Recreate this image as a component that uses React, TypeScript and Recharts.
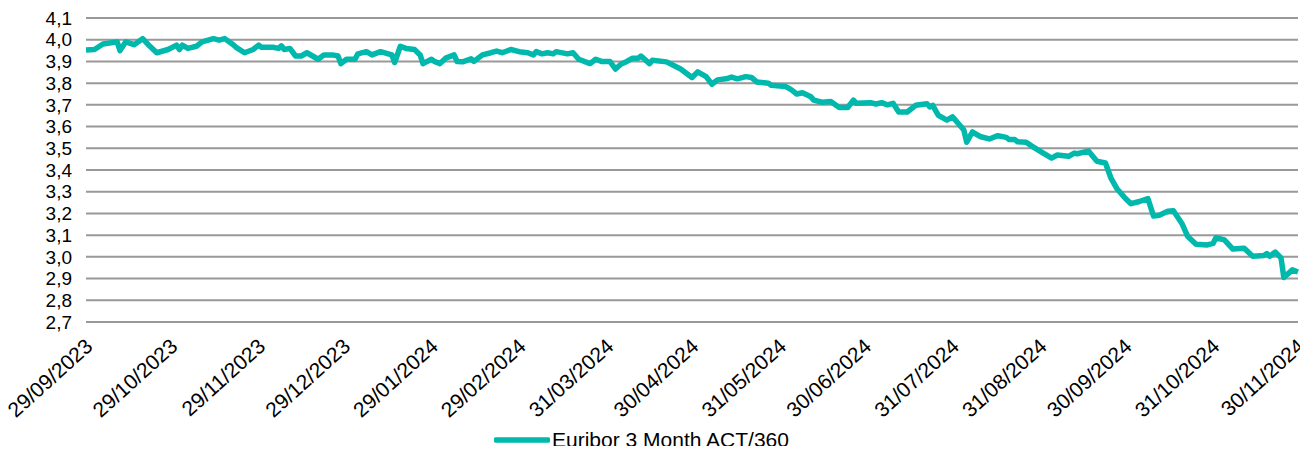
import React from "react";
import { LineChart, Line, XAxis, YAxis, CartesianGrid, Legend } from "recharts";

const dates = [
  "2023-09-29", "2023-10-02", "2023-10-05", "2023-10-10", "2023-10-11", "2023-10-13", "2023-10-16", "2023-10-19",
  "2023-10-21", "2023-10-24", "2023-10-28", "2023-10-31", "2023-11-01", "2023-11-02", "2023-11-04", "2023-11-07",
  "2023-11-09", "2023-11-13", "2023-11-15", "2023-11-17", "2023-11-20", "2023-11-21", "2023-11-24", "2023-11-27",
  "2023-11-29", "2023-11-30", "2023-12-04", "2023-12-06", "2023-12-07", "2023-12-08", "2023-12-10", "2023-12-12",
  "2023-12-14", "2023-12-16", "2023-12-20", "2023-12-22", "2023-12-25", "2023-12-27", "2023-12-28", "2023-12-30",
  "2024-01-02", "2024-01-03", "2024-01-06", "2024-01-08", "2024-01-11", "2024-01-15", "2024-01-16", "2024-01-18",
  "2024-01-20", "2024-01-23", "2024-01-25", "2024-01-26", "2024-01-29", "2024-01-30", "2024-02-01", "2024-02-03",
  "2024-02-06", "2024-02-07", "2024-02-09", "2024-02-12", "2024-02-13", "2024-02-16", "2024-02-19", "2024-02-21",
  "2024-02-23", "2024-02-26", "2024-02-29", "2024-03-03", "2024-03-05", "2024-03-06", "2024-03-08", "2024-03-10",
  "2024-03-12", "2024-03-13", "2024-03-17", "2024-03-19", "2024-03-21", "2024-03-25", "2024-03-27", "2024-03-29",
  "2024-04-01", "2024-04-03", "2024-04-05", "2024-04-07", "2024-04-09", "2024-04-11", "2024-04-12", "2024-04-15",
  "2024-04-16", "2024-04-21", "2024-04-26", "2024-04-30", "2024-05-02", "2024-05-05", "2024-05-07", "2024-05-09",
  "2024-05-12", "2024-05-14", "2024-05-16", "2024-05-19", "2024-05-21", "2024-05-23", "2024-05-27", "2024-05-28",
  "2024-06-02", "2024-06-04", "2024-06-06", "2024-06-08", "2024-06-11", "2024-06-12", "2024-06-15", "2024-06-18",
  "2024-06-21", "2024-06-24", "2024-06-26", "2024-06-27", "2024-07-02", "2024-07-04", "2024-07-06", "2024-07-08",
  "2024-07-10", "2024-07-12", "2024-07-15", "2024-07-18", "2024-07-22", "2024-07-23", "2024-07-24", "2024-07-26",
  "2024-07-29", "2024-07-31", "2024-08-04", "2024-08-05", "2024-08-07", "2024-08-10", "2024-08-13", "2024-08-16",
  "2024-08-19", "2024-08-20", "2024-08-22", "2024-08-23", "2024-08-26", "2024-08-28", "2024-08-31", "2024-09-04",
  "2024-09-06", "2024-09-10", "2024-09-12", "2024-09-13", "2024-09-17", "2024-09-20", "2024-09-23", "2024-09-25",
  "2024-09-27", "2024-09-30", "2024-10-02", "2024-10-05", "2024-10-08", "2024-10-10", "2024-10-12", "2024-10-15",
  "2024-10-17", "2024-10-20", "2024-10-22", "2024-10-25", "2024-10-29", "2024-10-31", "2024-11-01", "2024-11-04",
  "2024-11-07", "2024-11-11", "2024-11-14", "2024-11-18", "2024-11-19", "2024-11-20", "2024-11-22", "2024-11-24",
  "2024-11-25", "2024-11-28", "2024-11-30",
];

const euribor3m = [
  3.953, 3.955, 3.98, 3.99, 3.95, 3.99, 3.977, 4.005,
  3.977, 3.94, 3.955, 3.975, 3.955, 3.975, 3.96, 3.97,
  3.99, 4.005, 3.998, 4.005, 3.977, 3.965, 3.94, 3.955,
  3.975, 3.965, 3.965, 3.96, 3.972, 3.955, 3.96, 3.925,
  3.925, 3.94, 3.91, 3.93, 3.93, 3.925, 3.89, 3.91,
  3.91, 3.935, 3.945, 3.93, 3.945, 3.93, 3.895, 3.97,
  3.96, 3.955, 3.93, 3.89, 3.91, 3.9, 3.89, 3.915,
  3.93, 3.9, 3.898, 3.912, 3.9, 3.93, 3.94, 3.948,
  3.94, 3.955, 3.945, 3.94, 3.93, 3.945, 3.935, 3.94,
  3.935, 3.945, 3.935, 3.94, 3.91, 3.89, 3.91, 3.9,
  3.9, 3.865, 3.888, 3.9, 3.915, 3.915, 3.925, 3.89,
  3.905, 3.898, 3.865, 3.826, 3.852, 3.83, 3.795, 3.815,
  3.82, 3.828, 3.82, 3.83, 3.826, 3.805, 3.8, 3.79,
  3.785, 3.77, 3.75, 3.756, 3.737, 3.722, 3.712, 3.715,
  3.688, 3.688, 3.722, 3.707, 3.71, 3.704, 3.71, 3.7,
  3.707, 3.667, 3.667, 3.698, 3.705, 3.69, 3.698, 3.652,
  3.63, 3.645, 3.584, 3.528, 3.575, 3.553, 3.543, 3.558,
  3.55, 3.54, 3.54, 3.53, 3.528, 3.51, 3.486, 3.455,
  3.469, 3.463, 3.478, 3.475, 3.487, 3.44, 3.432, 3.361,
  3.315, 3.27, 3.245, 3.255, 3.268, 3.188, 3.192, 3.21,
  3.212, 3.154, 3.095, 3.058, 3.055, 3.062, 3.088, 3.078,
  3.036, 3.04, 3.003, 3.006, 3.015, 3.003, 3.022, 2.995,
  2.905, 2.94, 2.93,
];

const tickLabels = [
  "29/09/2023", "29/10/2023", "29/11/2023", "29/12/2023", "29/01/2024", "29/02/2024", "31/03/2024", "30/04/2024",
  "31/05/2024", "30/06/2024", "31/07/2024", "31/08/2024", "30/09/2024", "31/10/2024", "30/11/2024",
];

const yTicks = [2.7, 2.8, 2.9, 3.0, 3.1, 3.2, 3.3, 3.4, 3.5, 3.6, 3.7, 3.8, 3.9, 4.0, 4.1];

const seriesName = "Euribor 3 Month ACT/360";
const lineColor = "#00B8AC";
const font = "'Liberation Sans', Arial, sans-serif";

const isoToTime = (s: string) => {
  const [y, m, d] = s.split("-").map(Number);
  return Date.UTC(y, m - 1, d);
};
const labelToTime = (s: string) => {
  const [d, m, y] = s.split("/").map(Number);
  return Date.UTC(y, m - 1, d);
};
const timeToLabel = (t: number) => {
  const dt = new Date(t);
  const dd = String(dt.getUTCDate()).padStart(2, "0");
  const mm = String(dt.getUTCMonth() + 1).padStart(2, "0");
  return `${dd}/${mm}/${dt.getUTCFullYear()}`;
};

const data = dates.map((d, i) => ({ t: isoToTime(d), rate: euribor3m[i] }));
const xTicks = tickLabels.map(labelToTime);

// rotated date label, its top-right corner sits just under the tick
const DateTick = (props: any) => {
  const { x, y, payload } = props;
  const ax = x - 2;
  return (
    <text
      x={ax}
      y={y}
      dy="0.71em"
      textAnchor="end"
      transform={`rotate(-42, ${ax}, ${y})`}
      fill="#000"
      fontSize={21}
      fontFamily={font}
    >
      {timeToLabel(payload.value)}
    </text>
  );
};

const LegendContent = () => (
  <div
    style={{
      display: "flex",
      alignItems: "center",
      justifyContent: "center",
      height: 28,
      paddingRight: 25,
      fontFamily: font,
    }}
  >
    <svg width={56} height={10}>
      <line x1={2} y1={5} x2={54} y2={5} stroke={lineColor} strokeWidth={5.5} strokeLinecap="round" />
    </svg>
    <span style={{ fontSize: 21, color: "#000", marginLeft: 2 }}>{seriesName}</span>
  </div>
);

export default function App() {
  return (
    <div style={{ margin: -8, width: 1308, height: 454, background: "#fff" }}>
      <LineChart width={1308} height={454} data={data} margin={{ top: 18, right: 10, left: 0, bottom: 0 }}>
        <CartesianGrid vertical={false} stroke="#999999" strokeWidth={2} />
        <XAxis
          dataKey="t"
          type="number"
          scale="time"
          domain={[xTicks[0], xTicks[xTicks.length - 1]]}
          ticks={xTicks}
          interval={0}
          axisLine={false}
          tickLine={false}
          tickSize={0}
          tickMargin={15}
          height={104}
          tick={<DateTick />}
        />
        <YAxis
          type="number"
          domain={[2.7, 4.1]}
          ticks={yTicks}
          interval={0}
          width={86}
          axisLine={false}
          tickLine={false}
          tickSize={0}
          tickMargin={14}
          tickFormatter={(v: number) => v.toFixed(1).replace(".", ",")}
          tick={{ fill: "#000", fontSize: 19, fontFamily: font }}
        />
        <Legend verticalAlign="bottom" height={28} content={<LegendContent />} wrapperStyle={{ left: 0, width: 1308 }} />
        <Line
          type="linear"
          dataKey="rate"
          name={seriesName}
          stroke={lineColor}
          strokeWidth={5.5}
          strokeLinejoin="round"
          dot={false}
          activeDot={false}
          isAnimationActive={false}
        />
      </LineChart>
    </div>
  );
}
